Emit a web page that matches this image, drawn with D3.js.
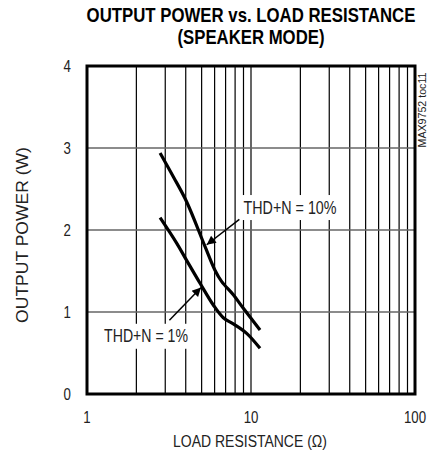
<!DOCTYPE html>
<html><head><meta charset="utf-8">
<script src="https://cdn.jsdelivr.net/npm/d3@7"></script>
<style>
html,body{margin:0;padding:0;background:#fff;}
svg{display:block;}
text{font-family:"Liberation Sans",Arial,sans-serif;fill:#222;}
</style></head>
<body>
<script>
// ---- data ----
const titleLines = ["OUTPUT POWER vs. LOAD RESISTANCE", "(SPEAKER MODE)"];
const xTicks = [1, 10, 100];
const yTicks = [0, 1, 2, 3, 4];
const resistance10 = [2.79, 3.36, 4.05, 5.24, 6.03, 6.63, 7.80, 8.98, 11.35];
const power10 = [2.94, 2.65, 2.345, 1.80, 1.51, 1.37, 1.21, 1.045, 0.78];
const resistance1 = [2.79, 3.52, 4.05, 4.89, 5.89, 6.78, 7.80, 9.41, 11.35];
const power1 = [2.15, 1.84, 1.63, 1.35, 1.085, 0.93, 0.855, 0.74, 0.557];
const seriesLabels = ["THD+N = 10%", "THD+N = 1%"];
// annotation anchors in data units: [labelR, labelP, tailR, tailP, tipR, tipP]
const annot10 = [17.3, 2.28, 8.49, 2.13, 5.37, 1.82];
const annot1 = [2.29, 0.71, 3.18, 0.90, 4.96, 1.30];

const W = 428, H = 457;
const m = {l: 87, r: 13, t: 66, b: 63};
const svg = d3.select("body").append("svg").attr("width", W).attr("height", H);

const x = d3.scaleLog().domain([1, 100]).range([m.l, W - m.r]);
const y = d3.scaleLinear().domain([0, 4]).range([H - m.b, m.t]);

// text squeezed horizontally to a target width (or by a fixed factor)
function ftext(parent, tx, ty, str, size, opts) {
  opts = opts || {};
  const g = parent.append("g");
  const t = g.append("text").attr("text-anchor", opts.anchor || "middle")
    .style("font-size", size + "px").text(str);
  if (opts.bold) t.style("font-weight", "bold").style("fill", "#000");
  let sx = opts.sx || 1;
  if (opts.width) sx = opts.width / t.node().getComputedTextLength();
  g.attr("transform", `translate(${tx},${ty})` + (opts.rot ? ` rotate(${opts.rot})` : "") + ` scale(${sx},1)`);
  return t;
}

// title
const titleW = [329, 147];
titleLines.forEach((t, i) => ftext(svg, 251, 22 + i * 22, t, 20, {bold: true, width: titleW[i]}));

// grid: vertical minor lines
const vGrid = [];
for (let dec = 1; dec < 100; dec *= 10) for (let k = 2; k <= 9; k++) vGrid.push(dec * k);
vGrid.push(10);
svg.append("g").selectAll("line").data(vGrid).join("line")
  .attr("x1", d => x(d)).attr("x2", d => x(d))
  .attr("y1", y(0)).attr("y2", y(4))
  .attr("stroke", "#000").attr("stroke-width", 1.2);
svg.append("g").selectAll("line").data([1, 2, 3]).join("line")
  .attr("x1", x(1)).attr("x2", x(100))
  .attr("y1", d => y(d)).attr("y2", d => y(d))
  .attr("stroke", "#666").attr("stroke-width", 1.6);

// curves
const line = d3.line().x(d => x(d[0])).y(d => y(d[1])).curve(d3.curveCatmullRom.alpha(0.5));
const s10 = resistance10.map((r, i) => [r, power10[i]]);
const s1 = resistance1.map((r, i) => [r, power1[i]]);
svg.append("g").selectAll("path").data([s10, s1]).join("path")
  .attr("d", line).attr("fill", "none").attr("stroke", "#000").attr("stroke-width", 3.2);

// frame
svg.append("rect").attr("x", x(1)).attr("y", y(4))
  .attr("width", x(100) - x(1)).attr("height", y(0) - y(4))
  .attr("fill", "none").attr("stroke", "#000").attr("stroke-width", 3);

// annotations
svg.append("defs").append("marker").attr("id", "ah")
  .attr("viewBox", "0 0 10 10").attr("refX", 10).attr("refY", 5)
  .attr("markerWidth", 12).attr("markerHeight", 9).attr("markerUnits", "userSpaceOnUse")
  .attr("orient", "auto")
  .append("path").attr("d", "M0,0 L10,5 L0,10 Z").attr("fill", "#000");

const labW = [93, 84];
[[annot10, seriesLabels[0]], [annot1, seriesLabels[1]]].forEach(([a, lab], i) => {
  const g = svg.append("g");
  const cx = x(a[0]), cy = y(a[1]);
  g.append("rect").attr("x", cx - labW[i] / 2 - 6).attr("y", cy - 12)
    .attr("width", labW[i] + 12).attr("height", 25).attr("fill", "#fff");
  ftext(g, cx, cy + 6.5, lab, 18, {width: labW[i]});
  g.append("line").attr("x1", x(a[2])).attr("y1", y(a[3]))
    .attr("x2", x(a[4])).attr("y2", y(a[5]))
    .attr("stroke", "#000").attr("stroke-width", 1.5).attr("marker-end", "url(#ah)");
});

// axes labels
xTicks.forEach(d => ftext(svg, x(d), 423, String(d), 17, {sx: 0.78}));
yTicks.forEach(d => ftext(svg, 71, y(d) + 6, String(d), 17, {sx: 0.78, anchor: "end"}));
ftext(svg, 250, 447, "LOAD RESISTANCE (Ω)", 17, {width: 154});
ftext(svg, 28, 235, "OUTPUT POWER (W)", 17, {width: 176, rot: -90});
ftext(svg, 426, 110, "MAX9752 toc11", 10, {width: 75, rot: -90});
</script>
</body></html>
